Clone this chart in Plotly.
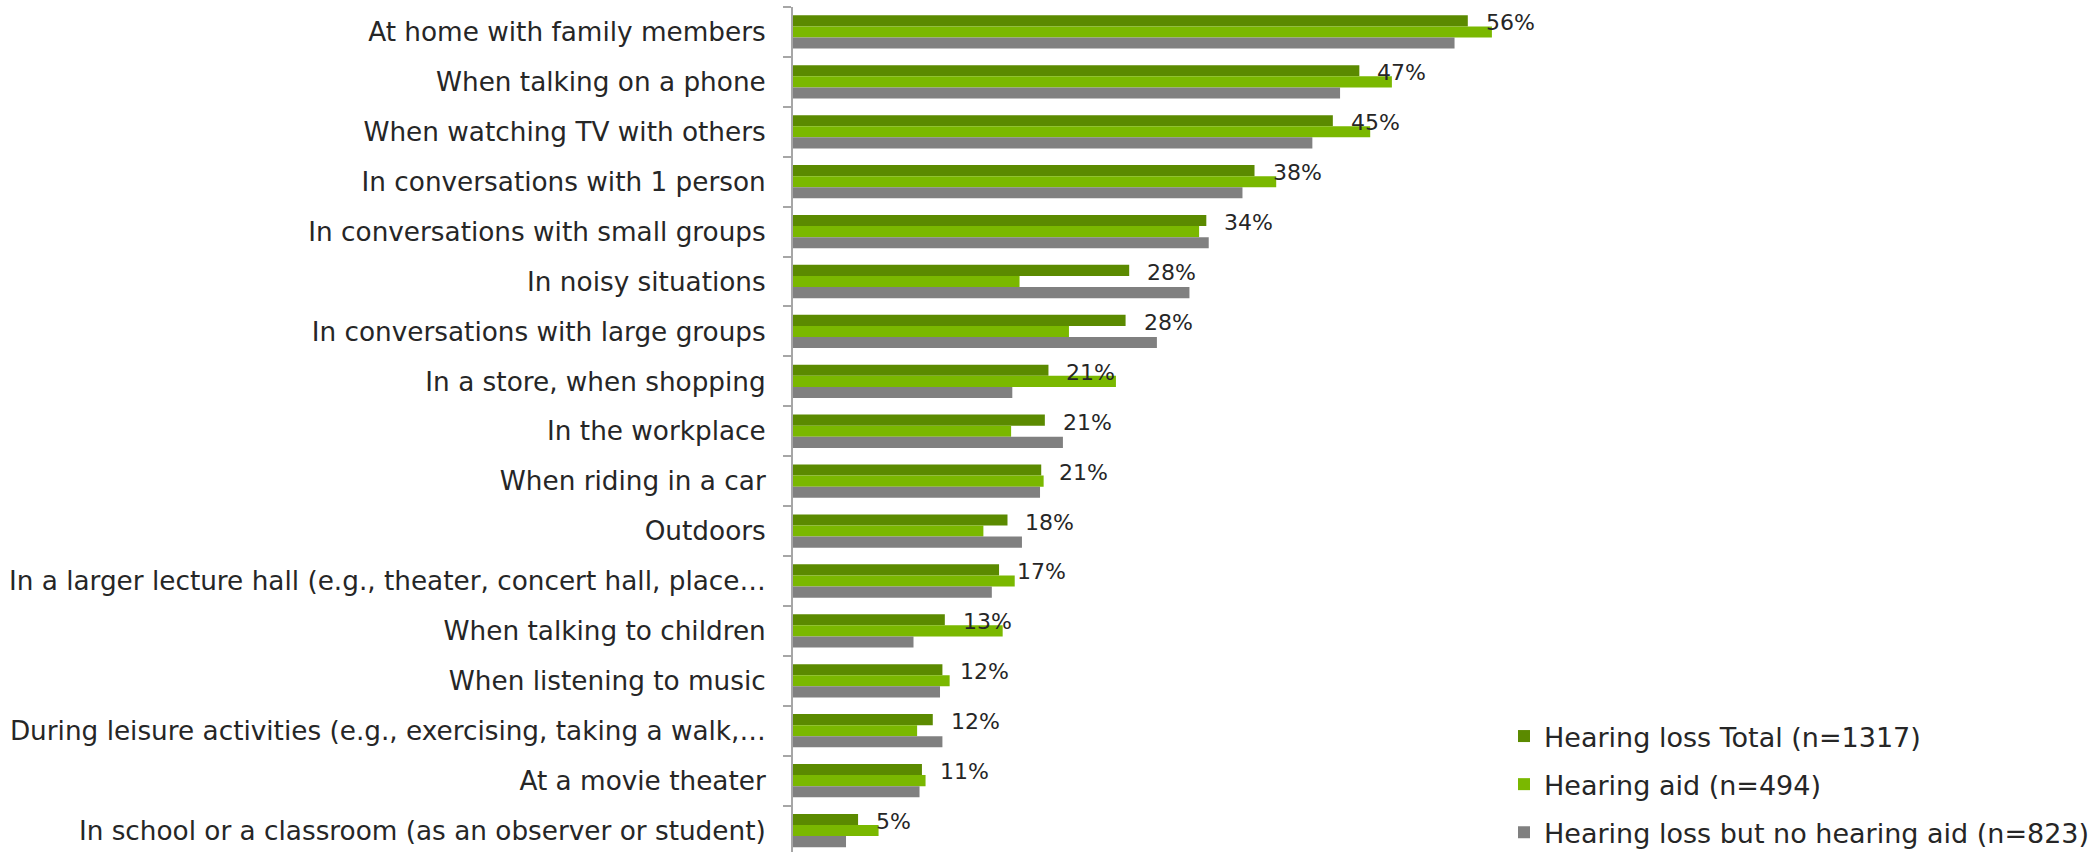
import plotly.graph_objects as go

categories = [
    "At home with family members",
    "When talking on a phone",
    "When watching TV with others",
    "In conversations with 1 person",
    "In conversations with small groups",
    "In noisy situations",
    "In conversations with large groups",
    "In a store, when shopping",
    "In the workplace",
    "When riding in a car",
    "Outdoors",
    "In a larger lecture hall (e.g., theater, concert hall, place…",
    "When talking to children",
    "When listening to music",
    "During leisure activities (e.g., exercising, taking a walk,…",
    "At a movie theater",
    "In school or a classroom (as an observer or student)",
]
total = [56.0, 47.0, 44.8, 38.3, 34.3, 27.9, 27.6, 21.2, 20.9, 20.6, 17.8, 17.1, 12.6, 12.4, 11.6, 10.7, 5.4]
aid = [58.0, 49.7, 47.9, 40.1, 33.7, 18.8, 22.9, 26.8, 18.1, 20.8, 15.8, 18.4, 17.4, 13.0, 10.3, 11.0, 7.1]
noaid = [54.9, 45.4, 43.1, 37.3, 34.5, 32.9, 30.2, 18.2, 22.4, 20.5, 19.0, 16.5, 10.0, 12.2, 12.4, 10.5, 4.4]
total_labels = ["56%", "47%", "45%", "38%", "34%", "28%", "28%", "21%", "21%", "21%",
                "18%", "17%", "13%", "12%", "12%", "11%", "5%"]
series_names = ["Hearing loss Total (n=1317)", "Hearing aid (n=494)",
                "Hearing loss but no hearing aid (n=823)"]
colors = ["#5B8A00", "#7AB800", "#808080"]

FONT = "DejaVu Sans"
W, H = 2100, 852
L, R, T, B = 793, 0, 7, 0
PX_PER_PCT = 12.05
xmax = (W - L - R) / PX_PER_PCT

fig = go.Figure()
for name, vals, col in zip(series_names, [total, aid, noaid], colors):
    fig.add_trace(go.Bar(
        y=categories, x=vals, name=name, orientation="h",
        marker=dict(color=col, line=dict(width=0)),
        legendgroup=name, hoverinfo="skip",
    ))

annotations = []
for cat, v, lab in zip(categories, total, total_labels):
    annotations.append(dict(
        x=v, y=cat, xref="x", yref="y", text=lab, showarrow=False,
        xanchor="left", yanchor="middle", xshift=16, yshift=9,
        font=dict(family=FONT, size=22, color="#262626"),
    ))

fig.update_layout(
    width=W, height=H,
    margin=dict(l=L, r=R, t=T, b=B, pad=0, autoexpand=False),
    paper_bgcolor="white", plot_bgcolor="white",
    barmode="group", bargap=0.333, bargroupgap=0,
    font=dict(family=FONT, size=27, color="#262626"),
    xaxis=dict(range=[0, xmax], visible=False, fixedrange=True, automargin=False),
    yaxis=dict(
        autorange=False, range=[16.43, -0.5], type="category",
        showline=True, linecolor="#A6A6A6", linewidth=2,
        ticks="outside", ticklen=8, tickcolor="#A6A6A6", tickwidth=2,
        tickson="boundaries", showgrid=False, zeroline=False,
        tickfont=dict(family=FONT, size=26.3, color="#262626"),
        ticklabelstandoff=20, fixedrange=True, automargin=False,
    ),
    legend=dict(
        x=(1504 - L) / (W - L - R), xanchor="left",
        y=1 - (712 - T) / (H - T - B), yanchor="top",
        font=dict(family=FONT, size=27, color="#262626"),
        bgcolor="rgba(0,0,0,0)", tracegroupgap=10, traceorder="grouped",
    ),
    annotations=annotations,
    showlegend=True,
)

fig.write_html("out.html", config={"displayModeBar": False})
with open("out.html", "r", encoding="utf-8") as f:
    html = f.read()
html = html.replace("<body>", '<body style="margin:0;overflow:hidden">', 1)
with open("out.html", "w", encoding="utf-8") as f:
    f.write(html)
